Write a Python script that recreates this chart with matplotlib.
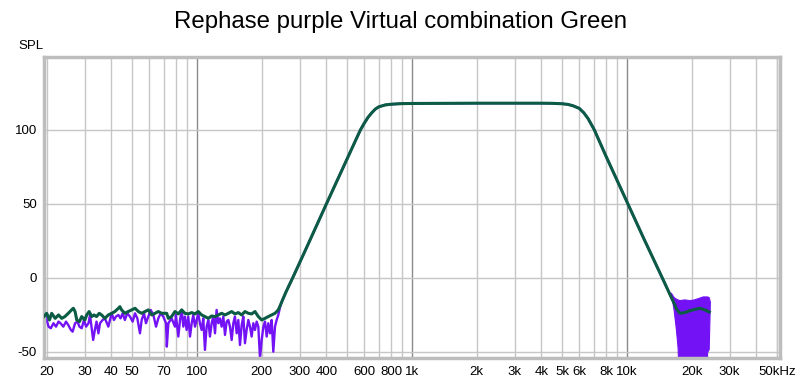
import matplotlib
matplotlib.use("Agg")
import matplotlib.pyplot as plt
from matplotlib.ticker import FixedLocator, NullFormatter, NullLocator

plt.rcParams['font.family'] = ['Liberation Sans', 'DejaVu Sans']

# ---------------- data ----------------
title = "Rephase purple Virtual combination Green"

# shared pass-band section (Hz, dB)
pass_f = [245, 250, 260, 278.6, 320, 400, 500, 550, 576, 600, 625, 650, 675, 700, 750,
          800, 900, 1000, 2000, 4000, 4500, 5000, 5300, 5600, 6000, 6300, 6600, 7050,
          8000, 10100, 12000, 14600, 16000, 16700, 17000]
pass_db = [-18, -14.9, -9.2, 0, 19, 50, 80.6, 93.7, 100, 104.5, 108.5, 111.5, 114, 115.5, 116.8,
           117.3, 117.7, 117.8, 118, 118, 117.9, 117.6, 117.2, 116.3, 114.5, 111.5, 107.5, 100,
           82, 50, 26.3, 0, -12.5, -18.2, -21]

# green (virtual combination) low-frequency noise
green_lo_f = [19.4, 20.0, 20.6, 21.1, 21.9, 22.7, 23.5, 24.3, 25.2, 26.1, 26.6, 27.1, 27.6, 28.4,
              29.1, 30.1, 30.7, 31.5, 32.4, 33.2, 34.1, 35.1, 36.0, 37.3, 38.7, 40.1, 41.5, 43.1,
              43.8, 44.6, 46.2, 47.9, 49.7, 51.5, 53.4, 55.3, 57.3, 59.4, 61.6, 63.8, 66.1, 68.5,
              72.3, 73.6, 76.2, 79.0, 81.9, 84.9, 87.9, 91.1, 94.5, 97.9, 101.4, 105.1, 108.9,
              112.9, 117.0, 121.3, 125.7, 130.2, 135.0, 139.9, 145.0, 150.2, 155.7, 161.4, 167.2,
              173.3, 179.6, 186.1, 192.9, 200.0, 207.2, 214.7, 222.5, 230.6, 238.9]
green_lo_db = [-26.1, -23.9, -28.4, -23.9, -27.3, -25.0, -27.3, -26.1, -23.9, -21.6, -20.5, -22.7,
               -28.4, -29.5, -26.1, -28.4, -25.0, -22.7, -26.1, -25.0, -26.1, -23.9, -25.0, -27.3,
               -25.0, -23.9, -22.7, -20.5, -19.4, -21.6, -23.9, -22.7, -21.6, -20.5, -22.7, -23.9,
               -22.7, -21.6, -25.0, -23.9, -22.7, -23.9, -23.9, -27.3, -26.1, -22.7, -24.3, -21.6,
               -23.9, -24.3, -23.4, -24.3, -22.7, -25.0, -26.1, -27.3, -25.7, -26.1, -25.0, -23.9,
               -25.0, -23.9, -22.7, -24.3, -23.4, -25.0, -22.7, -23.9, -24.3, -22.7, -26.1, -28.4,
               -27.3, -26.1, -25.0, -23.9, -21.6]

# green high-frequency tail
green_hi_f = [17640, 18610, 19630, 20720, 21850, 23060, 24150]
green_hi_db = [-23.9, -23.4, -22.1, -21.2, -20.5, -21.6, -23.0]

# purple (rephase) low-frequency noise
purple_lo_f = [19.4, 20.0, 20.4, 20.9, 21.5, 22.1, 22.7, 23.2, 23.9, 24.6, 25.2, 25.9, 26.4, 27.1,
               27.8, 28.4, 29.1, 29.8, 30.5, 31.3, 31.8, 32.4, 32.9, 33.5, 34.1, 34.8, 35.4, 36.4,
               37.3, 38.7, 39.4, 40.1, 41.1, 42.0, 43.1, 44.1, 45.1, 46.2, 47.4, 48.8, 50.2, 51.5,
               52.8, 54.3, 55.3, 56.7, 57.9, 59.4, 60.9, 62.7, 64.5, 66.1, 67.8, 69.7, 71.8, 72.4,
               73.6, 76.2, 79.0, 79.8, 81.9, 83.4, 84.9, 86.4, 87.9, 89.5, 91.1, 92.8, 94.5, 96.1,
               97.9, 99.6, 101.4, 103.2, 105.1, 107.0, 108.9, 110.9, 112.9, 114.9, 117.0, 119.1,
               121.3, 123.4, 125.7, 127.9, 130.2, 132.6, 135.0, 137.4, 139.9, 142.4, 145.0, 147.6,
               150.2, 153.0, 155.7, 158.5, 161.4, 164.3, 167.2, 170.2, 173.3, 176.4, 179.6, 182.8,
               186.1, 189.5, 192.9, 196.4, 200.0, 203.6, 207.2, 211.0, 214.7, 218.6, 222.5, 226.5,
               230.6, 234.7, 238.9]
purple_lo_db = [-22.7, -28.4, -32.9, -34.0, -30.6, -32.9, -29.5, -30.6, -32.9, -29.5, -31.8, -35.1,
                -36.3, -30.6, -29.5, -32.9, -34.0, -28.4, -32.9, -30.6, -25.0, -34.0, -41.9, -35.1,
                -29.5, -37.4, -30.6, -28.4, -27.3, -32.9, -28.4, -23.9, -28.4, -26.1, -25.0, -27.3,
                -23.9, -28.4, -23.9, -26.1, -29.5, -23.9, -27.3, -37.4, -28.4, -23.9, -30.6, -26.1,
                -21.6, -25.0, -32.9, -27.3, -23.9, -26.1, -30.6, -46.4, -30.6, -27.3, -32.9, -25.0,
                -39.6, -28.4, -21.6, -32.9, -26.1, -35.1, -26.1, -39.6, -30.6, -25.0, -32.9, -28.4,
                -23.9, -30.6, -35.1, -27.3, -48.6, -32.9, -28.4, -39.6, -30.6, -26.1, -37.4, -21.6,
                -30.6, -27.3, -32.9, -26.1, -38.5, -29.5, -28.4, -32.9, -41.9, -30.6, -26.1, -37.4,
                -28.4, -45.3, -31.8, -26.1, -44.1, -35.1, -28.4, -32.9, -39.6, -30.6, -35.1, -29.5,
                -32.9, -54.3, -41.9, -32.9, -29.5, -39.6, -30.6, -37.4, -28.4, -49.8, -32.9, -28.4,
                -25.0]

# purple very noisy band above ~16 kHz (upper / lower envelope)
band_f = [16000, 16500, 16900, 17200, 17500, 18500, 19500, 20500, 21500, 22500, 23400, 23600,
          24000, 24300]
band_hi = [-10, -13, -14, -14.5, -15, -14.5, -15, -14.5, -13.5, -12.5, -12.5, -12.5, -13, -16]
band_lo = [-10, -22, -35, -47, -80, -80, -80, -80, -80, -80, -80, -50, -48, -16]

x_ticks = [20, 30, 40, 50, 70, 100, 200, 300, 400, 600, 800, 1000, 2000, 3000, 4000, 5000,
           6000, 8000, 10000, 20000, 30000, 50000]
x_labels = ["20", "30", "40", "50", "70", "100", "200", "300", "400", "600", "800", "1k", "2k",
            "3k", "4k", "5k", "6k", "8k", "10k", "20k", "30k", "50kHz"]
y_ticks = [-50, 0, 50, 100]

# ---------------- drawing ----------------
PURPLE = "#7312F5"
GREEN = "#0C5C45"

fig = plt.figure(figsize=(8.0, 3.84), dpi=100)
ax = fig.add_axes([0.055, 0.068, 0.920, 0.784])
ax.set_xscale("log")
ax.set_xlim(19.43, 51500)
ax.set_ylim(-54, 149.3)

# grid
minor_pos = [m * d for d in (10, 100, 1000, 10000) for m in range(2, 10)] + [50000]
minor_pos = [p for p in minor_pos if 19 < p < 52000]
for p in minor_pos:
    ax.axvline(p, color="#c6c6c6", lw=1.0, zorder=0)
for p in (100, 1000, 10000):
    ax.axvline(p, color="#8a8a8a", lw=1.0, zorder=0)
for yv in y_ticks:
    ax.axhline(yv, color="#c6c6c6", lw=1.0, zorder=0)

# purple curve
pf = purple_lo_f + pass_f
pdb = purple_lo_db + pass_db
ax.plot(pf, pdb, color=PURPLE, lw=1.7, zorder=2, solid_joinstyle="round")
ax.fill_between(band_f, band_lo, band_hi, color=PURPLE, lw=0.8, edgecolor=PURPLE, zorder=2)

# green curve
gf = green_lo_f + pass_f + green_hi_f
gdb = green_lo_db + pass_db + green_hi_db
ax.plot(gf, gdb, color=GREEN, lw=2.2, zorder=3, solid_joinstyle="round")

# ticks
ax.xaxis.set_major_locator(FixedLocator(x_ticks))
ax.set_xticklabels(x_labels)
ax.xaxis.set_minor_locator(NullLocator())
ax.xaxis.set_minor_formatter(NullFormatter())
ax.set_yticks(y_ticks)
ax.set_yticklabels([str(v) for v in y_ticks])
ax.tick_params(axis="both", length=0, labelsize=9.5, colors="black")
ax.tick_params(axis="x", pad=6)
ax.tick_params(axis="y", pad=5)

for s in ax.spines.values():
    s.set_color("#bdbdbd")
    s.set_linewidth(2.5)

fig.text(0.039, 0.880, "SPL", fontsize=9.5, ha="center", va="center")
fig.text(0.5, 0.943, title, fontsize=17.3, ha="center", va="center")

fig.savefig("out.png", dpi=100)
